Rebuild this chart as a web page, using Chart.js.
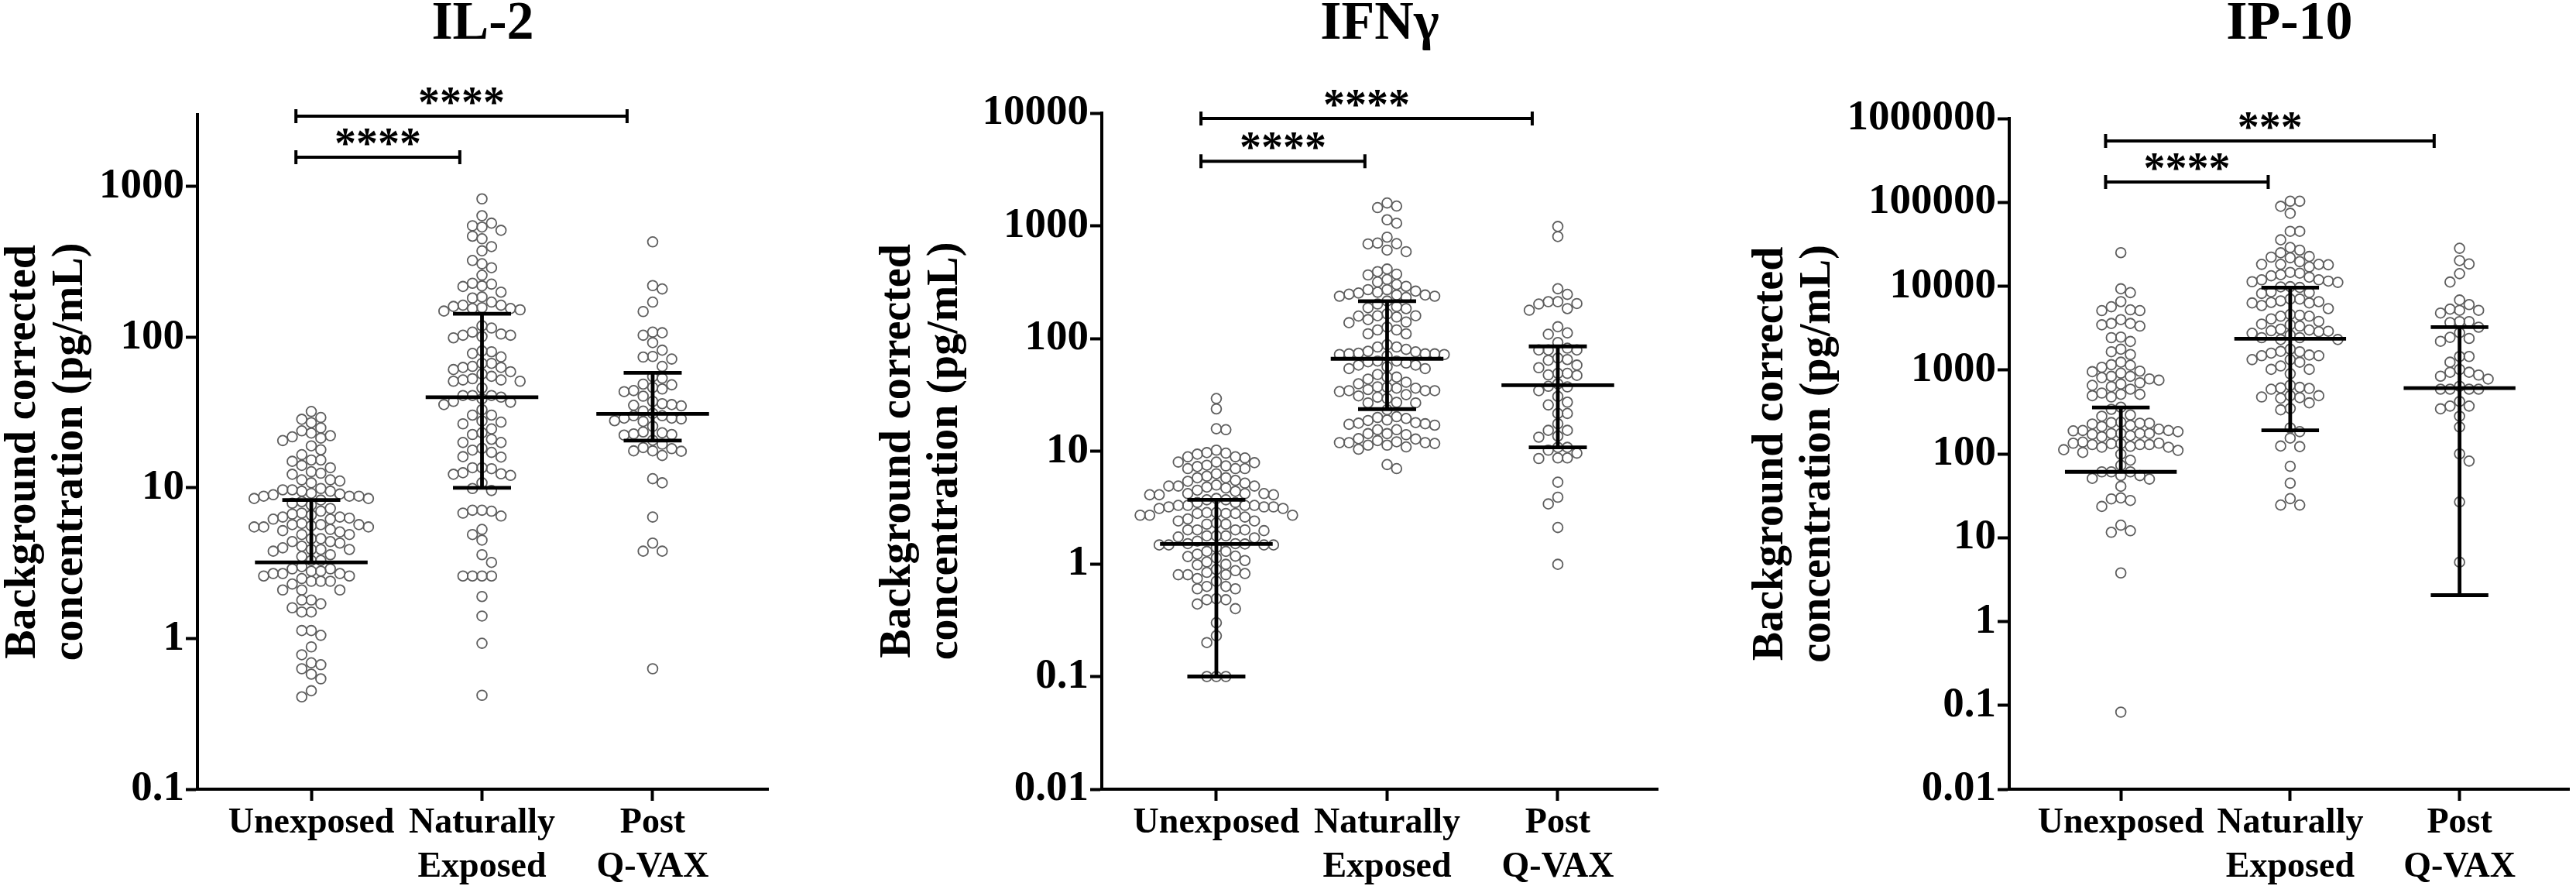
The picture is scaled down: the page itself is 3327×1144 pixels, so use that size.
<!DOCTYPE html>
<html lang="en">
<head>
    <meta charset="UTF-8">
    <title>Background corrected cytokine concentrations</title>
    <style>
        body {
            margin: 0;
            background-color: #ffffff;
        }
        .wrap {
            position: relative;
            width: 3327px;
            height: 1144px;
            overflow: hidden;
        }
        .wrap canvas {
            position: absolute;
            top: 0;
        }
    </style>
</head>
<body>

    <div class="wrap">
        <canvas id="il2Chart" width="1130" height="1144" style="left:0px"></canvas>
        <canvas id="ifngChart" width="1127" height="1144" style="left:1130px"></canvas>
        <canvas id="ip10Chart" width="1070" height="1144" style="left:2257px"></canvas>
    </div>

    <script src="https://cdn.jsdelivr.net/npm/chart.js@4.4.1/dist/chart.umd.min.js"></script>

    <script>
        // ---- data (pg/mL) ----
        const groups = ['Unexposed', ['Naturally', 'Exposed'], ['Post', 'Q-VAX']];

        const il2Ticks = [0.1, 1, 10, 100, 1000];
        const il2Unexposed = [32.1, 28.5, 27.1, 29.3, 25.0, 23.1, 23.9, 21.8, 22.2, 21.4, 20.6, 19.0, 17.9, 16.6, 15.0, 15.3,
            14.1, 15.3, 12.8, 13.6, 12.3, 12.5, 11.3, 11.3, 11.1, 10.8, 8.8, 8.8, 9.7, 9.5, 9.0, 9.5, 8.8, 9.7, 9.2, 9.9,
            9.1, 8.5, 8.3, 7.7, 8.1, 8.5, 7.9, 7.3, 6.4, 6.3, 6.6, 5.8, 5.2, 5.5, 5.7, 5.6, 6.8, 6.4, 7.0, 6.7, 6.2, 5.7,
            6.2, 4.4, 4.9, 4.6, 5.1, 5.5, 5.3, 5.7, 5.5, 4.9, 3.9, 3.9, 4.3, 4.1, 4.6, 4.4, 4.0, 3.6, 3.5, 3.9, 3.8, 3.3,
            3.3, 2.7, 2.7, 2.8, 2.9, 2.7, 2.9, 2.8, 2.6, 3.0, 2.3, 2.4, 2.6, 2.4, 2.5, 2.4, 2.1, 2.1, 2.1, 1.7, 1.8, 1.6,
            1.8, 1.5, 1.5, 1.13, 1.05, 1.13, 0.88, 0.78, 0.67, 0.69, 0.63, 0.58, 0.54, 0.45, 0.41];
        const il2Natural = [828, 640, 512, 538, 549, 571, 450, 468, 399, 374, 323, 289, 307, 258, 228, 199, 217, 219, 225,
            185, 182, 157, 163, 155, 163, 160, 155, 171, 152, 149, 115, 99, 105, 108, 103, 103, 119, 101, 78, 80, 81, 74,
            67, 67, 57, 61, 63, 64, 63, 59, 51, 51, 55, 52, 52, 53, 46, 41, 41, 37.5, 40, 35.7, 39, 41, 37, 33, 30.4, 30.4,
            27.8, 27.3, 26.6, 23.2, 24.6, 22.6, 20.0, 21.0, 20.0, 17.8, 17.2, 18.3, 16.1, 16.0, 13.6, 12.6, 12.4, 13.4,
            12.1, 13.6, 12.3, 10.8, 9.6, 9.9, 7.0, 6.5, 6.8, 7.1, 7.1, 5.3, 4.5, 4.9, 3.6, 3.2, 2.6, 2.6, 2.6, 2.6, 1.9,
            1.41, 0.93, 0.42];
        const il2PostQvax = [429, 220, 209, 171, 148, 103, 107, 108, 92, 82, 74.5, 71.6, 73.8, 64, 54.7, 53.4, 48.3, 43.5,
            46.4, 45.3, 48.8, 44.2, 40.6, 37.5, 36.2, 35.3, 35.7, 35.0, 32.3, 30.1, 31.2, 29.0, 29.0, 30.1, 27.9, 27.6,
            28.7, 25.6, 23.5, 22.8, 22.4, 22.6, 23.2, 20.7, 19.5, 18.5, 17.6, 16.4, 17.5, 17.6, 18.2, 10.8, 11.5, 6.4, 4.3,
            3.8, 3.8, 0.63];
        const il2Median = [3.2, 40, 31];
        const il2Upper = [8.3, 143, 58];
        const il2Lower = [3.2, 10, 20.6];
        const il2Sig = ['****', '****'];
        const il2SigAt = [1566, 2930];

        const ifngTicks = [0.01, 0.1, 1, 10, 100, 1000, 10000];
        const ifngUnexposed = [29.3, 23.7, 15.5, 15.8, 10.2, 9.7, 9.6, 9.4, 8.9, 8.9, 8.7, 8.0, 8.0, 7.9, 7.4, 7.3, 7.0,
            7.0, 7.5, 7.0, 6.0, 6.3, 5.8, 5.5, 5.8, 5.4, 4.9, 4.8, 4.9, 5.0, 5.2, 4.9, 4.7, 4.1, 4.2, 4.2, 4.1, 4.4, 4.2,
            4.5, 4.1, 3.5, 3.7, 3.8, 3.7, 3.5, 3.2, 3.3, 3.1, 3.3, 3.2, 3.3, 3.3, 3.2, 3.1, 2.7, 2.7, 2.7, 2.85, 2.8, 2.8,
            2.85, 2.8, 2.6, 2.5, 2.4, 2.3, 2.25, 2.25, 2.4, 2.0, 2.0, 2.0, 1.97, 2.0, 1.77, 1.73, 1.77, 1.70, 1.77, 1.47,
            1.47, 1.47, 1.47, 1.51, 1.59, 1.51, 1.50, 1.40, 1.16, 1.29, 1.13, 1.22, 1.29, 1.17, 1.04, 1.07, 0.99, 0.98,
            0.80, 0.82, 0.87, 0.84, 0.80, 0.80, 0.89, 0.74, 0.70, 0.60, 0.63, 0.60, 0.63, 0.48, 0.48, 0.49, 0.40, 0.44,
            0.30, 0.23, 0.20, 0.1, 0.1, 0.1];
        const ifngNatural = [1449, 1496, 1593, 1054, 1130, 792, 690, 608, 589, 702, 694, 413, 366, 392, 372, 334, 317,
            301, 290, 271, 247, 271, 263, 243, 231, 237, 243, 237, 257, 253, 215, 202, 192, 184, 187, 159, 165, 158, 155,
            140, 147, 159, 138, 119, 110, 119, 110, 126, 84, 80, 88, 84, 77, 70, 72, 73, 73, 72, 76, 74, 73, 62, 58, 60.5,
            63, 54, 54, 58, 63, 56, 43.6, 45.4, 47.9, 45.4, 34.4, 34.4, 36.8, 33.8, 36.2, 39.6, 34.4, 35.2, 36.2, 40.9,
            37.2, 26.8, 27.1, 30.9, 26.8, 29.3, 30.1, 31.7, 23.3, 20.2, 19.5, 17.5, 18.9, 17.9, 19.9, 18.7, 15.5, 17.0,
            17.7, 17.3, 15.5, 14.0, 14.3, 14.3, 12.8, 11.9, 11.7, 12.4, 12.1, 11.3, 11.3, 10.9, 11.9, 11.9, 12.9, 10.4,
            7.0, 7.6];
        const ifngPostQvax = [986, 802, 276, 204, 246, 202, 184, 178, 212, 212, 127, 109, 112, 82, 92, 79, 79, 79, 65, 67,
            58, 55, 49, 64, 47.5, 47, 49, 39.5, 34.4, 37.2, 37.6, 30.6, 21.6, 27.2, 25.7, 21.6, 17.5, 15.3, 15.3, 13.3,
            13.6, 10.8, 10.2, 8.6, 9.6, 8.7, 10.8, 8.7, 5.3, 3.4, 3.9, 2.1, 0.99];
        const ifngMedian = [1.5, 66, 38.5];
        const ifngUpper = [3.7, 214, 85];
        const ifngLower = [0.1, 23.6, 10.8];
        const ifngSig = ['****', '****'];
        const ifngSigAt = [3730, 8950];

        const ip10Ticks = [0.01, 0.1, 1, 10, 100, 1000, 10000, 100000, 1000000];
        const ip10Unexposed = [25100, 9300, 8370, 6540, 5110, 5110, 5220, 5680, 3590, 3590, 3460, 3340, 3990, 2430, 2190,
            2470, 1770, 1530, 1650, 1240, 1157, 1077, 1140, 916, 841, 955, 812, 783, 969, 841, 704, 656, 680, 634, 756,
            591, 477, 513, 494, 513, 531, 360, 340, 281, 291, 239, 212, 232, 236, 219, 197, 227, 232, 175, 188, 184, 190,
            190, 175, 165, 171, 160, 175, 175, 129, 132, 123, 138, 129, 120, 134, 120, 134, 129, 132, 99, 110, 112, 104,
            84, 73, 61, 55, 50, 55, 61, 51, 61, 41, 29, 23.6, 27.8, 29.8, 12.1, 14.1, 11.6, 3.8, 0.083];
        const ip10Natural = [103000, 103000, 89600, 74000, 45100, 45100, 35700, 26900, 28900, 21800, 19600, 18200, 18200,
            18200, 25000, 18000, 22600, 17000, 22200, 14600, 13700, 14300, 11900, 11300, 11500, 12800, 11900, 13300,
            11100, 9860, 9800, 9660, 8200, 8550, 8370, 6680, 6540, 6400, 6310, 7020, 5880, 7020, 6310, 5400, 4380, 4500,
            4590, 3800, 4380, 4070, 2860, 3070, 3000, 2940, 3340, 3460, 3530, 2900, 2610, 2740, 2310, 2310, 2430, 2430,
            1770, 1480, 1650, 1670, 1590, 1510, 1330, 1480, 1330, 1018, 1240, 1117, 1018, 902, 621, 657, 611, 603, 590,
            494, 477, 494, 461, 468, 406, 347, 335, 154, 184, 204, 122, 124, 71, 44.7, 24.5, 29.2, 24.5];
        const ip10PostQvax = [28300, 20200, 18400, 14100, 11200, 6030, 6830, 5150, 5320, 5150, 4780, 3780, 3680, 3780,
            3240, 2780, 2450, 2200, 2380, 1450, 1450, 1240, 940, 871, 1016, 940, 780, 844, 640, 591, 421, 591, 591, 591,
            344, 371, 371, 281, 209, 82, 100, 26.7, 5.1];
        const ip10Median = [61, 2360, 608];
        const ip10Upper = [357, 9600, 3250];
        const ip10Lower = [61, 191, 2.06];
        const ip10Sig = ['****', '***'];
        const ip10SigAt = [175000, 541000];

        // ---- drawing ----
        const SERIF = "'Liberation Serif', 'Times New Roman', serif";
        const STEP = 12.3;     // px between swarm columns
        const ROW_GAP = 13;    // px needed between two dots in one column

        // median line, error bar and caps on top of the dots
        const summaryLines = {
            id: 'summaryLines',
            afterDatasetsDraw(chart, args, opts) {
                const ctx = chart.ctx, x = chart.scales.x, y = chart.scales.y;
                ctx.save();
                ctx.strokeStyle = '#000';
                ctx.lineWidth = 4.8;
                opts.median.forEach(function (m, i) {
                    const cx = x.getPixelForValue(i);
                    const wide = x.getPixelForValue(i + 0.33) - cx;
                    const cap = x.getPixelForValue(i + 0.17) - cx;
                    const ym = y.getPixelForValue(m);
                    const yu = y.getPixelForValue(opts.upper[i]);
                    const yl = y.getPixelForValue(opts.lower[i]);
                    ctx.beginPath();
                    ctx.moveTo(cx - wide, ym); ctx.lineTo(cx + wide, ym);
                    ctx.moveTo(cx, yu); ctx.lineTo(cx, yl);
                    ctx.moveTo(cx - cap, yu); ctx.lineTo(cx + cap, yu);
                    ctx.moveTo(cx - cap, yl); ctx.lineTo(cx + cap, yl);
                    ctx.stroke();
                });
                ctx.restore();
            }
        };

        // significance brackets with stars
        const sigBrackets = {
            id: 'sigBrackets',
            afterDraw(chart, args, opts) {
                const ctx = chart.ctx, x = chart.scales.x, y = chart.scales.y;
                ctx.save();
                ctx.strokeStyle = '#000';
                ctx.fillStyle = '#000';
                ctx.lineWidth = 4;
                ctx.font = 'bold 56px ' + SERIF;
                ctx.textAlign = 'center';
                ctx.textBaseline = 'alphabetic';
                opts.labels.forEach(function (label, i) {
                    const x0 = x.getPixelForValue(-0.09);
                    const x1 = x.getPixelForValue(opts.ends[i]);
                    const yy = y.getPixelForValue(opts.at[i]);
                    ctx.beginPath();
                    ctx.moveTo(x0, yy); ctx.lineTo(x1, yy);
                    ctx.moveTo(x0, yy - 9); ctx.lineTo(x0, yy + 9);
                    ctx.moveTo(x1, yy - 9); ctx.lineTo(x1, yy + 9);
                    ctx.stroke();
                    ctx.fillText(label, (x0 + x1) / 2, yy + 1);
                });
                ctx.restore();
            }
        };

        // Prism style scatter: dots pushed into columns left/right of the group centre
        function spreadPoints(chart) {
            const xs = chart.scales.x, ys = chart.scales.y;
            const unit = xs.getPixelForValue(1) - xs.getPixelForValue(0);
            chart.data.datasets.forEach(function (ds, g) {
                const pts = ds.values.map(v => ({ v: v, py: ys.getPixelForValue(v) }))
                    .sort((a, b) => a.py - b.py);
                const lastY = {};
                let flip = 1;
                ds.data = pts.map(function (p) {
                    let col = 0;
                    for (let k = 0; k < 60; k++) {
                        const c = k === 0 ? 0 : (k % 2 ? 1 : -1) * Math.ceil(k / 2) * flip;
                        if (lastY[c] === undefined || p.py - lastY[c] >= ROW_GAP) { col = c; break; }
                    }
                    lastY[col] = p.py;
                    if (col !== 0) flip = -flip;
                    return { x: g + col * STEP / unit, y: p.v };
                });
            });
            chart.update('none');
        }

        function makePanel(p) {
            const chart = new Chart(document.getElementById(p.canvas), {
                type: 'scatter',
                data: {
                    datasets: p.series.map(function (vals, g) {
                        return {
                            values: vals,
                            data: vals.map(v => ({ x: g, y: v })),
                            pointStyle: 'circle',
                            pointRadius: 6.4,
                            pointBorderWidth: 1.8,
                            borderColor: '#5e5e5e',
                            backgroundColor: 'rgba(0,0,0,0)',
                            clip: false
                        };
                    })
                },
                options: {
                    responsive: false,
                    animation: false,
                    events: [],
                    layout: { padding: { left: 0, right: p.padRight, top: 0, bottom: 0 } },
                    plugins: {
                        legend: { display: false },
                        tooltip: { enabled: false },
                        title: {
                            display: true,
                            text: p.title,
                            fullSize: false,
                            color: '#000',
                            font: { family: SERIF, size: 70, weight: 'bold', lineHeight: 0.8 },
                            padding: { top: 4, bottom: p.top - 60 }
                        },
                        summaryLines: { median: p.median, upper: p.upper, lower: p.lower },
                        sigBrackets: { labels: p.sig, at: p.sigAt, ends: [0.87, 1.85] }
                    },
                    scales: {
                        x: {
                            type: 'linear',
                            min: p.xMin,
                            max: p.xMax,
                            afterBuildTicks: s => { s.ticks = [0, 1, 2].map(v => ({ value: v })); },
                            afterFit: s => { s.height = 125; },
                            grid: {
                                drawOnChartArea: false,
                                tickLength: 15,
                                tickWidth: 4,
                                tickColor: '#000'
                            },
                            border: { display: true, width: 4, color: '#000' },
                            ticks: {
                                autoSkip: false,
                                maxRotation: 0,
                                minRotation: 0,
                                padding: 1,
                                color: '#000',
                                font: { family: SERIF, size: 46, weight: 'bold', lineHeight: 1.24 },
                                callback: v => groups[v]
                            }
                        },
                        y: {
                            type: 'logarithmic',
                            min: p.yTicks[0],
                            max: p.yMax,
                            afterBuildTicks: s => { s.ticks = p.yTicks.map(v => ({ value: v })); },
                            afterFit: s => { s.width = p.yWidth; },
                            grid: {
                                drawOnChartArea: false,
                                tickLength: 15,
                                tickWidth: 4,
                                tickColor: '#000'
                            },
                            border: { display: true, width: 4, color: '#000' },
                            ticks: {
                                padding: 2,
                                color: '#000',
                                font: { family: SERIF, size: 55, weight: 'bold' },
                                callback: v => String(v)
                            },
                            title: {
                                display: true,
                                text: ['Background corrected', 'concentration (pg/mL)'],
                                color: '#000',
                                padding: 0,
                                font: { family: SERIF, size: 56, weight: 'bold', lineHeight: 1.09 }
                            }
                        }
                    }
                },
                plugins: [summaryLines, sigBrackets]
            });
            spreadPoints(chart);
            return chart;
        }

        makePanel({
            canvas: 'il2Chart', title: 'IL-2',
            series: [il2Unexposed, il2Natural, il2PostQvax],
            median: il2Median, upper: il2Upper, lower: il2Lower,
            sig: il2Sig, sigAt: il2SigAt,
            yTicks: il2Ticks, yMax: 3000,
            xMin: -0.667, xMax: 2.676, yWidth: 255, padRight: 138, top: 148
        });

        makePanel({
            canvas: 'ifngChart', title: 'IFN\u03b3',
            series: [ifngUnexposed, ifngNatural, ifngPostQvax],
            median: ifngMedian, upper: ifngUpper, lower: ifngLower,
            sig: ifngSig, sigAt: ifngSigAt,
            yTicks: ifngTicks, yMax: 10000,
            xMin: -0.671, xMax: 2.585, yWidth: 293, padRight: 116, top: 146
        });

        makePanel({
            canvas: 'ip10Chart', title: 'IP-10',
            series: [ip10Unexposed, ip10Natural, ip10PostQvax],
            median: ip10Median, upper: ip10Upper, lower: ip10Lower,
            sig: ip10Sig, sigAt: ip10SigAt,
            yTicks: ip10Ticks, yMax: 1000000,
            xMin: -0.659, xMax: 2.65, yWidth: 338, padRight: 5, top: 153
        });
    </script>

</body>
</html>
